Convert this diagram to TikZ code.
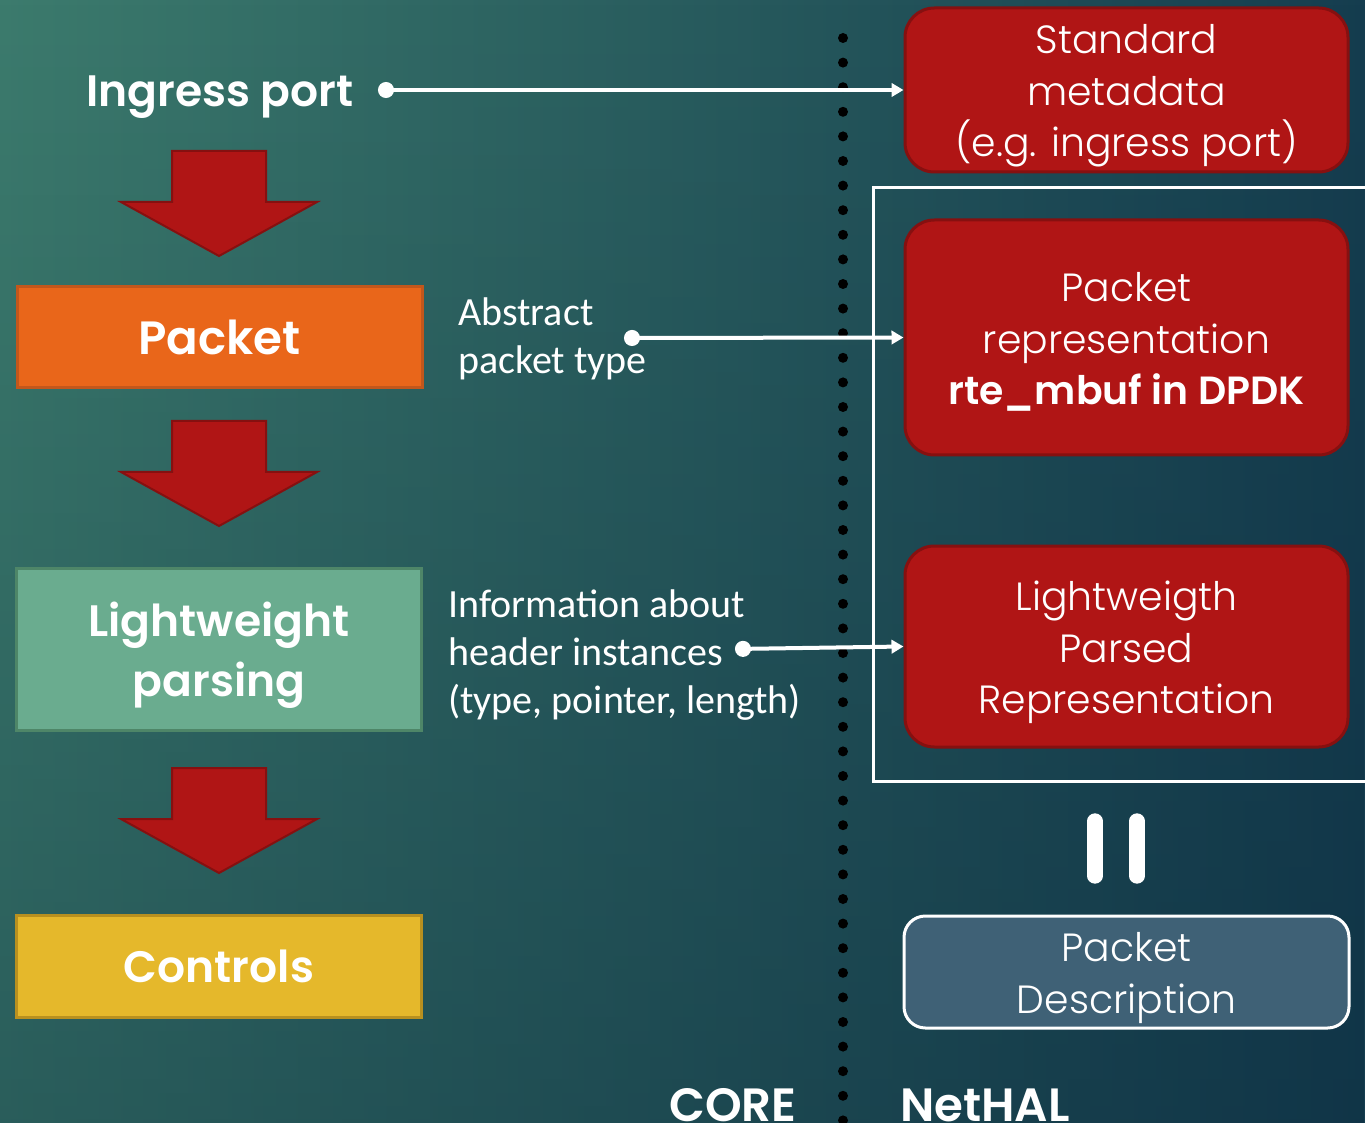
\documentclass[tikz,border=0pt]{standalone}
\usepackage{fontspec}
\usetikzlibrary{arrows.meta,fadings}
\IfFontExistsTF{Poppins Light}
  {\newfontfamily\gothic{Poppins Light}}
  {\newfontfamily\gothic{Poppins}}
\IfFontExistsTF{Poppins SemiBold}
  {\newfontfamily\gothicbf{Poppins SemiBold}}
  {\newfontfamily\gothicbf{Poppins}[UprightFont=*-Bold]}
\newfontfamily\calib{Carlito}
\definecolor{bgL}{HTML}{3C7B6D}
\definecolor{bgR}{HTML}{153D4F}
\definecolor{bgDark}{HTML}{08263A}
\definecolor{redfill}{HTML}{B01515}
\definecolor{rededge}{HTML}{861010}
\definecolor{orfill}{HTML}{E9661A}
\definecolor{oredge}{HTML}{C2571C}
\definecolor{grfill}{HTML}{6AAC8F}
\definecolor{gredge}{HTML}{4E8668}
\definecolor{yefill}{HTML}{E5B82B}
\definecolor{yeedge}{HTML}{B8901F}
\definecolor{descfill}{HTML}{3F6176}
\begin{document}
\begin{tikzpicture}[x=0.75pt,y=-0.75pt,
  halbox/.style={draw=rededge, line width=2.25pt, fill=redfill, rounded corners=22pt,
    minimum width=443*0.75pt, inner sep=0pt},
  haltext/.style={text=white, align=center, inner sep=0pt,
    font=\gothic\fontsize{29.5}{38.5}\selectfont},
  corebox/.style={line width=2.25pt, minimum width=405*0.75pt, inner sep=0pt,
    text=white, align=center, font=\gothicbf\fontsize{33}{45}\selectfont},
  bigtext/.style={text=white, inner sep=0pt, font=\gothicbf\fontsize{33}{45}\selectfont},
  titletext/.style={text=white, inner sep=0pt, font=\gothicbf\fontsize{35}{45}\selectfont},
  note/.style={text=white, inner sep=0pt, align=left, font=\calib\fontsize{30}{36}\selectfont},
  conn/.style={draw=white, line width=3pt, {Circle[length=12pt]}-{Triangle[length=9pt,width=10pt]}},
  downarrow/.style={fill=redfill, draw=rededge, line width=1.5pt, line join=miter}
]
% background
\useasboundingbox (0,0) rectangle (1365,1123);
\shade[left color=bgL, right color=bgR] (0,0) rectangle (1365,1123);
\fill[bgDark, path fading=north, fill opacity=0.35] (0,0) rectangle (1365,1123);

% left column (CORE)
\node[bigtext] (ingress) at (220,97) {Ingress port};
\node[corebox, draw=oredge, fill=orfill, minimum height=101*0.75pt,
      font=\gothicbf\fontsize{35}{45}\selectfont] (packet) at (219.5,337.5) {Packet};
\node[corebox, draw=gredge, fill=grfill, minimum height=162*0.75pt] (lwp) at (219,649) {\rule{0pt}{36pt}Lightweight\\parsing};
\node[corebox, draw=yeedge, fill=yefill, minimum height=102*0.75pt] (controls) at (219,966) {Controls};

% block arrows between the stages
\foreach \dy in {0,270,617}{
  \draw[downarrow] (172,151+\dy) -- (266,151+\dy) -- (266,202+\dy) -- (317,202+\dy)
     -- (219,256+\dy) -- (121,202+\dy) -- (172,202+\dy) -- cycle;
}

% notes
\node[note, anchor=west] (abstract) at (458,339) {Abstract\\packet type};
\node[note, anchor=west] (info) at (448,655) {Information about\\header instances\\(type, pointer, length)};

% separator
\draw[black, line width=7.5pt, line cap=round, dash pattern=on 0pt off 18.45pt] (843,38) -- (843,1135);

% right column (NetHAL)
\node[halbox, minimum height=164*0.75pt] (meta) at (1126.5,90) {};
\node[haltext] (metatext) at ([yshift=-4.5pt]meta.center) {Standard\\metadata\\(e.g. ingress port)};
\node[halbox, minimum height=235*0.75pt] (rep) at (1126.5,337.5) {};
\node[haltext] (reptext) at ([yshift=-3.5pt]rep.center) {Packet\\representation\\{\gothicbf rte\_mbuf in DPDK}};
\node[halbox, minimum height=201*0.75pt] (lpr) at (1126.5,646.5) {};
\node[haltext] (lprtext) at ([yshift=-4.5pt]lpr.center) {Lightweigth\\Parsed\\Representation};
\node[halbox, draw=white, fill=descfill, rounded corners=16pt, minimum width=445*0.75pt,
      minimum height=112*0.75pt] (desc) at (1126.5,972) {};
\node[haltext] (desctext) at ([yshift=-4.5pt]desc.center) {Packet\\Description};

\draw[white, line width=2.25pt] (873,188) rectangle (1375,781);

% equality sign
\draw[white, line width=11.5pt, line cap=round] (1095,821) -- (1095,876);
\draw[white, line width=11.5pt, line cap=round] (1137,821) -- (1137,876);

% connectors
\coordinate (ipdot) at (378,90);
\coordinate (absdot) at (624,338);
\coordinate (infodot) at (735,649);
\draw[conn] (ipdot) -- (meta.west);
\draw[conn] (absdot) -- (rep.west);
\draw[conn] (infodot) -- (lpr.west);

% column titles
\node[titletext, anchor=base west] (core) at (669,1121) {CORE};
\node[titletext, anchor=base west] (nethal) at (900,1121) {NetHAL};
\end{tikzpicture}
\end{document}
